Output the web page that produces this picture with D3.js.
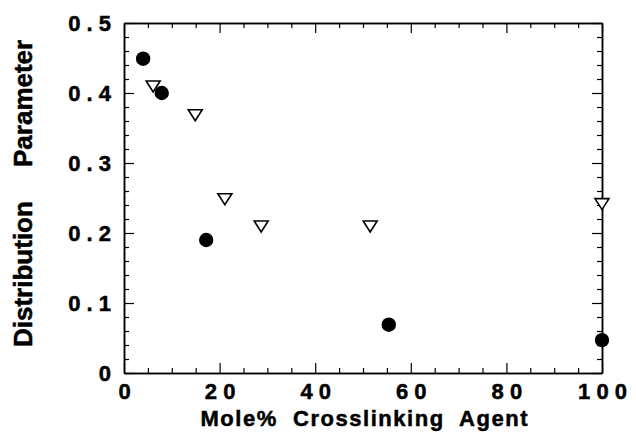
<!DOCTYPE html>
<html>
<head>
<meta charset="utf-8">
<script src="https://cdn.jsdelivr.net/npm/d3@7"></script>
<style>
  body { margin: 0; background: #fff; }
  text { font-family: "Liberation Sans", Arial, sans-serif; font-weight: bold; fill: #000; stroke: #000; stroke-width: 0.5px; }
</style>
</head>
<body>
<div id="chart"></div>
<script>
// data
var circleX = [4.0, 7.9, 17.2, 55.4, 100];
var circleY = [0.449, 0.400, 0.190, 0.069, 0.047];
var triX = [6.1, 14.9, 21.1, 28.7, 51.5, 100];
var triY = [0.410, 0.369, 0.249, 0.210, 0.210, 0.242];
var xTicks = [0, 20, 40, 60, 80, 100];
var xTickLabels = ["0", "2 0", "4 0", "6 0", "8 0", "1 0 0"];
var yTicks = [0, 0.1, 0.2, 0.3, 0.4, 0.5];
var yTickLabels = ["0", "0 . 1", "0 . 2", "0 . 3", "0 . 4", "0 . 5"];

var margin = {top: 23, right: 34, bottom: 60, left: 124},
    width = 636 - margin.left - margin.right,
    height = 433 - margin.top - margin.bottom;

var svg = d3.select("#chart")
  .append("svg")
    .attr("width", 636)
    .attr("height", 433)
  .append("g")
    .attr("transform", "translate(" + margin.left + "," + margin.top + ")");

var x = d3.scaleLinear().domain([0, 100]).range([0, width]);
var y = d3.scaleLinear().domain([0, 0.5]).range([height, 0]);

var minorX = d3.range(0, 101, 5).filter(function(d) { return d % 20 != 0; });
var minorY = d3.range(0, 0.501, 0.02).map(function(d) { return +d.toFixed(2); })
  .filter(function(d) { return Math.round(d * 100) % 10 != 0; });

function styleAxis(g) {
  g.select(".domain").attr("stroke", "#000").attr("stroke-width", 1.5);
  g.selectAll(".tick line").attr("stroke", "#000").attr("stroke-width", 1.2);
}

// bottom axis, ticks pointing inward
svg.append("g")
    .attr("transform", "translate(0," + height + ")")
    .call(d3.axisBottom(x).tickValues(xTicks).tickSize(-10).tickSizeOuter(0)
      .tickPadding(11).tickFormat(function(d, i) { return xTickLabels[i]; }))
    .call(styleAxis)
    .call(function(g) { g.selectAll("text").style("font-size", "22px").attr("dy", "0.68em"); });
svg.append("g")
    .attr("transform", "translate(0," + height + ")")
    .call(d3.axisBottom(x).tickValues(minorX).tickSize(-5).tickSizeOuter(0).tickFormat(""))
    .call(styleAxis);

// top axis
svg.append("g")
    .call(d3.axisTop(x).tickValues(xTicks).tickSize(-10).tickSizeOuter(0).tickFormat(""))
    .call(styleAxis);
svg.append("g")
    .call(d3.axisTop(x).tickValues(minorX).tickSize(-5).tickSizeOuter(0).tickFormat(""))
    .call(styleAxis);

// left axis
svg.append("g")
    .call(d3.axisLeft(y).tickValues(yTicks).tickSize(-10).tickSizeOuter(0)
      .tickPadding(13).tickFormat(function(d, i) { return yTickLabels[i]; }))
    .call(styleAxis)
    .call(function(g) { g.selectAll("text").style("font-size", "22px"); });
svg.append("g")
    .call(d3.axisLeft(y).tickValues(minorY).tickSize(-5).tickSizeOuter(0).tickFormat(""))
    .call(styleAxis);

// right axis
svg.append("g")
    .attr("transform", "translate(" + width + ",0)")
    .call(d3.axisRight(y).tickValues(yTicks).tickSize(-10).tickSizeOuter(0).tickFormat(""))
    .call(styleAxis);
svg.append("g")
    .attr("transform", "translate(" + width + ",0)")
    .call(d3.axisRight(y).tickValues(minorY).tickSize(-5).tickSizeOuter(0).tickFormat(""))
    .call(styleAxis);

// filled circles
svg.selectAll("circle.pt")
    .data(circleX)
    .enter()
    .append("circle")
      .attr("class", "pt")
      .attr("cx", function(d) { return x(d); })
      .attr("cy", function(d, i) { return y(circleY[i]); })
      .attr("r", 7.2)
      .style("fill", "#000");

// open down-pointing triangles
svg.selectAll("path.tri")
    .data(triX)
    .enter()
    .append("path")
      .attr("class", "tri")
      .attr("transform", function(d, i) { return "translate(" + x(d) + "," + y(triY[i]) + ")"; })
      .attr("d", "M-7,-5L7,-5L0,6Z")
      .style("fill", "#fff")
      .style("stroke", "#000")
      .style("stroke-width", 1.6);

// axis titles
svg.append("text")
    .attr("text-anchor", "middle")
    .attr("x", 364 - margin.left)
    .attr("y", height + 53)
    .attr("textLength", 327)
    .attr("lengthAdjust", "spacing")
    .style("font-size", "22px")
    .style("white-space", "pre")
    .text("Mole%  Crosslinking  Agent");

svg.append("text")
    .attr("transform", "translate(" + (32 - margin.left) + "," + (347 - margin.top) + ") rotate(-90)")
    .style("font-size", "26px")
    .text("Distribution");
svg.append("text")
    .attr("transform", "translate(" + (32 - margin.left) + "," + (167 - margin.top) + ") rotate(-90)")
    .style("font-size", "26px")
    .text("Parameter");
</script>
</body>
</html>
